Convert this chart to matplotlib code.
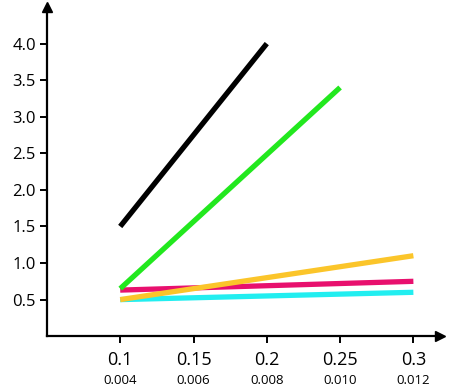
import matplotlib
matplotlib.use("Agg")
import matplotlib.pyplot as plt
from matplotlib.transforms import blended_transform_factory

x_ticks = [0.1, 0.15, 0.2, 0.25, 0.3]
x_labels = ["0.1", "0.15", "0.2", "0.25", "0.3"]
x_sub_labels = ["0.004", "0.006", "0.008", "0.010", "0.012"]
y_ticks = [0.5, 1.0, 1.5, 2.0, 2.5, 3.0, 3.5, 4.0]

black_x = [0.1, 0.2]
black_y = [1.5, 4.0]
green_x = [0.1, 0.25]
green_y = [0.65, 3.4]
orange_x = [0.1, 0.3]
orange_y = [0.5, 1.1]
magenta_x = [0.1, 0.3]
magenta_y = [0.63, 0.75]
cyan_x = [0.1, 0.3]
cyan_y = [0.5, 0.6]

plt.rcParams['font.family'] = ['Open Sans', 'DejaVu Sans']

fig = plt.figure(figsize=(4.6, 3.9), dpi=100)
ax = fig.add_axes([0.102, 0.138, 0.854, 0.844])

lw = 3.8
ax.plot(cyan_x, cyan_y, color="#22eef0", lw=lw, solid_capstyle="butt")
ax.plot(magenta_x, magenta_y, color="#e8106e", lw=lw, solid_capstyle="butt")
ax.plot(orange_x, orange_y, color="#fbc52a", lw=lw, solid_capstyle="butt")
ax.plot(green_x, green_y, color="#22e81e", lw=lw, solid_capstyle="butt")
ax.plot(black_x, black_y, color="#000000", lw=lw, solid_capstyle="butt")

ax.set_xlim(0.05, 0.318)
ax.set_ylim(0.0, 4.5)
for s in ["top", "right"]:
    ax.spines[s].set_visible(False)
for s in ["left", "bottom"]:
    ax.spines[s].set_linewidth(1.6)

ax.set_xticks(x_ticks)
ax.set_xticklabels(x_labels, fontsize=13)
ax.set_yticks(y_ticks)
ax.set_yticklabels([f"{v:.1f}" for v in y_ticks], fontsize=12)
ax.tick_params(axis="both", width=1.4, length=5, direction="out")
ax.tick_params(axis="x", pad=6)
ax.tick_params(axis="y", pad=3)

trans = blended_transform_factory(ax.transData, ax.transAxes)
for xv, lab in zip(x_ticks, x_sub_labels):
    ax.text(xv, -0.135, lab, transform=trans, ha="center", va="center", fontsize=9.5)

ax.plot(1, 0, ">k", transform=ax.transAxes, clip_on=False, markersize=7)
ax.plot(0, 1, "^k", transform=ax.transAxes, clip_on=False, markersize=7)

fig.savefig("out.png", dpi=100)
